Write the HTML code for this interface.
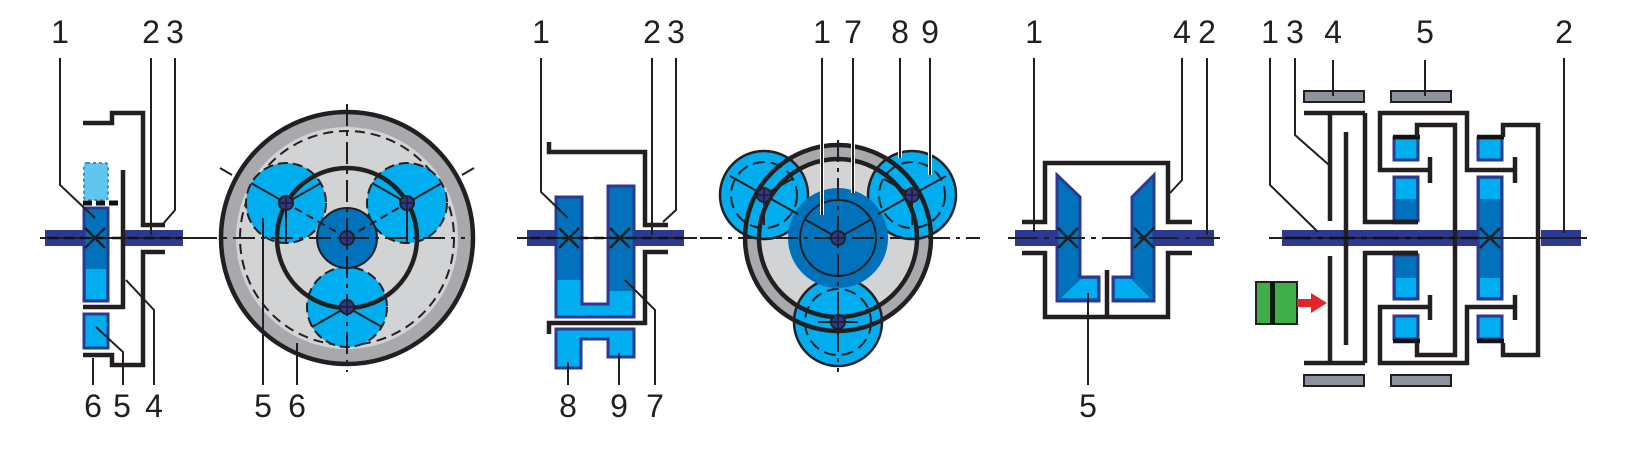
<!DOCTYPE html>
<html><head><meta charset="utf-8"><style>
html,body{margin:0;padding:0;background:#fff;}
svg{display:block;}
text{font-family:"Liberation Sans",sans-serif;font-size:32px;fill:#231f20;text-anchor:middle;}
</style></head><body>
<svg width="1638" height="460" viewBox="0 0 1638 460" xmlns="http://www.w3.org/2000/svg">
<defs>
<g id="pin"><circle r="7" fill="#2b3990" stroke="#231f20" stroke-width="2"/><line x1="-7" y1="0" x2="7" y2="0" stroke="#231f20" stroke-width="1.5"/><line x1="0" y1="-7" x2="0" y2="7" stroke="#231f20" stroke-width="1.5"/></g>
<g id="xm"><line x1="-10" y1="-10" x2="10" y2="10" stroke="#231f20" stroke-width="2.5"/><line x1="-10" y1="10" x2="10" y2="-10" stroke="#231f20" stroke-width="2.5"/></g>
</defs>

<!-- ================= PANEL 1 (side) ================= -->
<g>
<rect x="45" y="230" width="40" height="16" fill="#2b3990"/>
<rect x="123" y="230" width="60" height="16" fill="#2b3990"/>
<rect x="84" y="163" width="24" height="37" rx="3" fill="#5fc6f0" stroke="#3a8fd0" stroke-width="2" stroke-dasharray="3,3"/>
<line x1="83" y1="203" x2="118" y2="203" stroke="#111" stroke-width="5" stroke-dasharray="9,4"/>
<rect x="84" y="208" width="24" height="93" fill="#0072bc" stroke="#2b3990" stroke-width="3"/>
<rect x="86" y="269" width="20" height="30" fill="#00aeef"/>
<rect x="84" y="314" width="24" height="34" fill="#00aeef" stroke="#2b3990" stroke-width="3"/>
<g fill="none" stroke="#231f20" stroke-width="4.5">
<polyline points="83,123 112,123 112,113 143,113 143,225 165,225"/>
<polyline points="83,355 112,355 112,365 143,365 143,252 165,252"/>
<polyline points="123,170 123,307 83,307"/>
</g>
<line x1="40" y1="238" x2="200" y2="238" stroke="#231f20" stroke-width="2"/>
<line x1="48" y1="238" x2="182" y2="238" stroke="#111" stroke-width="2.5" stroke-dasharray="10,6"/>
<use href="#xm" x="95" y="238"/>
<g fill="none" stroke="#231f20" stroke-width="2">
<polyline points="60,58 60,185 95,218"/>
<line x1="151" y1="58" x2="151" y2="235"/>
<polyline points="175,58 175,210 163,224"/>
<polyline points="154,385 154,310 126,280"/>
<polyline points="123,385 123,352 96,327"/>
<line x1="93" y1="358" x2="93" y2="385"/>
</g>
<text x="60" y="43">1</text><text x="151" y="43">2</text><text x="175" y="43">3</text>
<text x="93" y="417">6</text><text x="122" y="417">5</text><text x="154" y="417">4</text>
</g>

<!-- ================= PANEL 1 (front) ================= -->
<g>
<circle cx="347" cy="238" r="126" fill="#a7a9ac" stroke="#231f20" stroke-width="4.5"/>
<circle cx="347" cy="238" r="111" fill="#d1d3d4"/>
<circle cx="347" cy="238" r="107" fill="none" stroke="#231f20" stroke-width="2" stroke-dasharray="10,6"/>
<g fill="#00aeef" stroke="#231f20" stroke-width="2" stroke-dasharray="10,5">
<circle cx="286" cy="203" r="40"/><circle cx="407" cy="203" r="40"/><circle cx="347" cy="307" r="40"/>
</g>
<circle cx="347" cy="238" r="30" fill="#0072bc" stroke="#231f20" stroke-width="2"/>
<circle cx="347" cy="238" r="70" fill="none" stroke="#231f20" stroke-width="4.5"/>
<g stroke="#231f20" stroke-width="2">
<line x1="195" y1="238" x2="465" y2="238" stroke-dasharray="22,6,4,6"/>
<line x1="347" y1="104" x2="347" y2="372" stroke-dasharray="22,6,4,6"/>
<line x1="347" y1="238" x2="286" y2="203" stroke-dasharray="8,5"/>
<line x1="347" y1="238" x2="407" y2="203" stroke-dasharray="8,5"/>
<line x1="286" y1="203" x2="251" y2="183"/><line x1="286" y1="203" x2="286" y2="243"/><line x1="286" y1="203" x2="321" y2="183"/>
<line x1="407" y1="203" x2="442" y2="183"/><line x1="407" y1="203" x2="372" y2="183"/><line x1="407" y1="203" x2="407" y2="243"/>
<line x1="347" y1="307" x2="312" y2="327"/><line x1="347" y1="307" x2="382" y2="327"/>
<line x1="220" y1="168" x2="232" y2="175"/><line x1="474" y1="168" x2="462" y2="175"/>
</g>
<use href="#pin" x="347" y="238"/><use href="#pin" x="286" y="203"/><use href="#pin" x="407" y="203"/><use href="#pin" x="347" y="307"/>
<g stroke="#231f20" stroke-width="2"><line x1="263" y1="218" x2="263" y2="385"/><line x1="297" y1="343" x2="297" y2="385"/></g>
<text x="263" y="417">5</text><text x="297" y="417">6</text>
</g>

<!-- ================= PANEL 2 (side) ================= -->
<g>
<rect x="527" y="230" width="30" height="16" fill="#2b3990"/>
<rect x="632" y="230" width="52" height="16" fill="#2b3990"/>
<path d="M556,197 H582 V304 H608 V186 H634 V317 H556 Z" fill="#0072bc" stroke="#2b3990" stroke-width="3"/>
<path d="M557.5,280 H580.5 V305.5 H609.5 V291 H632.5 V315.5 H557.5 Z" fill="#00aeef"/>
<path d="M556,329 H634 V357 H608 V339 H581 V368 H556 Z" fill="#00aeef" stroke="#2b3990" stroke-width="3"/>
<g fill="none" stroke="#231f20" stroke-width="4.5">
<polyline points="549,142 549,152 645,152 645,225 668,225"/>
<polyline points="549,334 549,323 645,323 645,252 668,252"/>
</g>
<line x1="517" y1="238" x2="697" y2="238" stroke="#231f20" stroke-width="2"/>
<line x1="530" y1="238" x2="684" y2="238" stroke="#111" stroke-width="2.5" stroke-dasharray="10,6"/>
<use href="#xm" x="569" y="238"/><use href="#xm" x="620" y="238"/>
<g fill="none" stroke="#231f20" stroke-width="2">
<polyline points="541,58 541,192 568,218"/>
<line x1="652" y1="58" x2="652" y2="235"/>
<polyline points="676,58 676,210 663,222"/>
<polyline points="655,385 655,310 625,280"/>
<line x1="568" y1="362" x2="568" y2="385"/>
<line x1="619" y1="353" x2="619" y2="385"/>
</g>
<text x="541" y="43">1</text><text x="652" y="43">2</text><text x="676" y="43">3</text>
<text x="568" y="417">8</text><text x="619" y="417">9</text><text x="655" y="417">7</text>
</g>

<!-- ================= PANEL 2 (front) ================= -->
<g>
<circle cx="838" cy="238" r="93" fill="#a7a9ac"/>
<circle cx="838" cy="238" r="79" fill="#d1d3d4"/>
<g fill="#00aeef" stroke="#231f20" stroke-width="2.5">
<circle cx="764" cy="195" r="44"/><circle cx="912" cy="195" r="44"/><circle cx="838" cy="322" r="44"/>
</g>
<g fill="none" stroke="#231f20" stroke-width="2" stroke-dasharray="12,6">
<circle cx="764" cy="195" r="33"/><circle cx="912" cy="195" r="33"/><circle cx="838" cy="322" r="33"/>
</g>
<circle cx="838" cy="238" r="50" fill="#0072bc"/>
<circle cx="838" cy="238" r="38" fill="none" stroke="#231f20" stroke-width="2"/>
<circle cx="838" cy="238" r="93" fill="none" stroke="#231f20" stroke-width="4.5"/>
<circle cx="838" cy="238" r="79" fill="none" stroke="#231f20" stroke-width="4.5"/>
<g stroke="#231f20" stroke-width="2">
<line x1="700" y1="238" x2="980" y2="238" stroke-dasharray="22,6,4,6"/>
<line x1="838" y1="140" x2="838" y2="372" stroke-dasharray="22,6,4,6"/>
<line x1="838" y1="238" x2="806" y2="220"/><line x1="838" y1="238" x2="870" y2="220"/>
<line x1="764" y1="195" x2="730" y2="176"/><line x1="764" y1="195" x2="798" y2="214"/><line x1="764" y1="195" x2="764" y2="225"/><line x1="764" y1="195" x2="792" y2="179"/>
<line x1="912" y1="195" x2="946" y2="176"/><line x1="912" y1="195" x2="878" y2="214"/><line x1="912" y1="195" x2="912" y2="225"/><line x1="912" y1="195" x2="884" y2="179"/>
<line x1="818" y1="322" x2="858" y2="322"/>
</g>
<use href="#pin" x="838" y="238"/><use href="#pin" x="764" y="195"/><use href="#pin" x="912" y="195"/><use href="#pin" x="838" y="322"/>
<g stroke="#fff" stroke-width="4"><line x1="822" y1="60" x2="822" y2="215"/><line x1="853" y1="60" x2="853" y2="193"/><line x1="900" y1="60" x2="900" y2="158"/><line x1="930" y1="60" x2="930" y2="175"/></g>
<g stroke="#231f20" stroke-width="2"><line x1="822" y1="58" x2="822" y2="215"/><line x1="853" y1="58" x2="853" y2="193"/><line x1="900" y1="58" x2="900" y2="158"/><line x1="930" y1="58" x2="930" y2="175"/></g>
<text x="822" y="43">1</text><text x="853" y="43">7</text><text x="900" y="43">8</text><text x="930" y="43">9</text>
</g>

<!-- ================= PANEL 3 (bevel) ================= -->
<g>
<rect x="1015" y="230" width="44" height="16" fill="#2b3990"/>
<rect x="1152" y="230" width="62" height="16" fill="#2b3990"/>
<g fill="none" stroke="#231f20" stroke-width="4.5">
<polyline points="1022,222 1045,222 1045,163 1168,163 1168,222 1192,222"/>
<polyline points="1022,253 1045,253 1045,317 1168,317 1168,253 1192,253"/>
<line x1="1107" y1="270" x2="1107" y2="317"/>
</g>
<polygon points="1057,175 1080,197 1080,277 1099,277 1099,301 1057,301" fill="#0072bc" stroke="#2b3990" stroke-width="3"/>
<polygon points="1062,297 1081,279 1097,279 1097,298 1062,298" fill="#00aeef"/>
<polygon points="1154,175 1132,197 1132,277 1113,277 1113,301 1154,301" fill="#0072bc" stroke="#2b3990" stroke-width="3"/>
<polygon points="1149,297 1131,279 1115,279 1115,298 1149,298" fill="#00aeef"/>
<line x1="1008" y1="238" x2="1220" y2="238" stroke="#231f20" stroke-width="2" stroke-dasharray="30,6,5,6"/>
<use href="#xm" x="1068" y="238"/><use href="#xm" x="1144" y="238"/>
<g fill="none" stroke="#231f20" stroke-width="2">
<line x1="1034" y1="58" x2="1034" y2="232"/>
<polyline points="1182,58 1182,180 1170,193"/>
<line x1="1207" y1="58" x2="1207" y2="235"/>
<line x1="1088" y1="385" x2="1088" y2="293"/>
</g>
<text x="1034" y="43">1</text><text x="1182" y="43">4</text><text x="1207" y="43">2</text>
<text x="1088" y="417">5</text>
</g>

<!-- ================= PANEL 4 (clutch/planetary) ================= -->
<g>
<g fill="#8d929f" stroke="#231f20" stroke-width="2">
<rect x="1304" y="91" width="60" height="11"/><rect x="1391" y="91" width="60" height="11"/>
<rect x="1304" y="375" width="60" height="11"/><rect x="1391" y="375" width="60" height="11"/>
</g>
<rect x="1282" y="230" width="198" height="16" fill="#2b3990"/>
<rect x="1541" y="230" width="40" height="16" fill="#2b3990"/>
<!-- gears -->
<g stroke="#2b3990" stroke-width="3">
<rect x="1394" y="138" width="24" height="22" fill="#00aeef"/>
<rect x="1394" y="177" width="24" height="44" fill="#0072bc"/>
<rect x="1394" y="255" width="24" height="44" fill="#0072bc"/>
<rect x="1394" y="316" width="24" height="23" fill="#00aeef"/>
<rect x="1478" y="138" width="24" height="22" fill="#00aeef"/>
<rect x="1478" y="177" width="24" height="122" fill="#0072bc"/>
<rect x="1478" y="316" width="24" height="23" fill="#00aeef"/>
</g>
<g fill="#00aeef">
<rect x="1396" y="179" width="20" height="20"/><rect x="1396" y="278" width="20" height="19"/>
<rect x="1480" y="179" width="20" height="20"/><rect x="1480" y="278" width="20" height="19"/>
</g>
<g stroke="#111" stroke-width="4.5">
<line x1="1393" y1="137" x2="1420" y2="137"/><line x1="1393" y1="341" x2="1420" y2="341"/>
<line x1="1477" y1="137" x2="1504" y2="137"/><line x1="1477" y1="341" x2="1504" y2="341"/>
<line x1="1393" y1="222" x2="1418" y2="222"/><line x1="1393" y1="253" x2="1418" y2="253"/>
</g>
<g fill="none" stroke="#231f20" stroke-width="4.5">
<!-- clutch frame -->
<line x1="1304" y1="113" x2="1365" y2="113"/>
<line x1="1330" y1="113" x2="1330" y2="221"/>
<polyline points="1365,113 1365,222 1418,222"/>
<line x1="1304" y1="363" x2="1365" y2="363"/>
<line x1="1330" y1="256" x2="1330" y2="363"/>
<polyline points="1365,363 1365,253 1418,253"/>
<line x1="1346" y1="132" x2="1346" y2="345"/>
<!-- frame B -->
<polyline points="1430,170 1380,170 1380,113 1467,113 1467,170 1515,170"/>
<line x1="1430" y1="157" x2="1430" y2="183"/><line x1="1515" y1="157" x2="1515" y2="183"/>
<polyline points="1430,307 1380,307 1380,363 1467,363 1467,307 1515,307"/>
<line x1="1430" y1="295" x2="1430" y2="320"/><line x1="1515" y1="295" x2="1515" y2="320"/>
<!-- frame C -->
<polyline points="1417,137 1417,125 1455,125 1455,355 1417,355 1417,343"/>
<!-- frame D -->
<polyline points="1503,137 1503,125 1538,125 1538,355 1503,355 1503,343"/>
</g>
<line x1="1269" y1="238" x2="1587" y2="238" stroke="#231f20" stroke-width="2"/>
<line x1="1285" y1="238" x2="1478" y2="238" stroke="#111" stroke-width="2.5" stroke-dasharray="26,6,6,6"/>
<use href="#xm" x="1490" y="238"/>
<!-- actuator -->
<rect x="1256" y="282" width="41" height="42" fill="#3fae49" stroke="#231f20" stroke-width="2"/>
<rect x="1270" y="282" width="5" height="42" fill="#0a1a0a"/>
<rect x="1297" y="299" width="16" height="8" fill="#e2242b"/>
<polygon points="1311,293 1327,303 1311,313" fill="#e2242b"/>
<g fill="none" stroke="#231f20" stroke-width="2">
<polyline points="1270,58 1270,185 1318,232"/>
<polyline points="1295,58 1295,135 1329,165"/>
<line x1="1333" y1="60" x2="1333" y2="96"/>
<line x1="1425" y1="60" x2="1425" y2="96"/>
<line x1="1564" y1="58" x2="1564" y2="233"/>
</g>
<text x="1270" y="43">1</text><text x="1295" y="43">3</text><text x="1333" y="43">4</text><text x="1425" y="43">5</text><text x="1564" y="43">2</text>
</g>
</svg>
</body></html>
